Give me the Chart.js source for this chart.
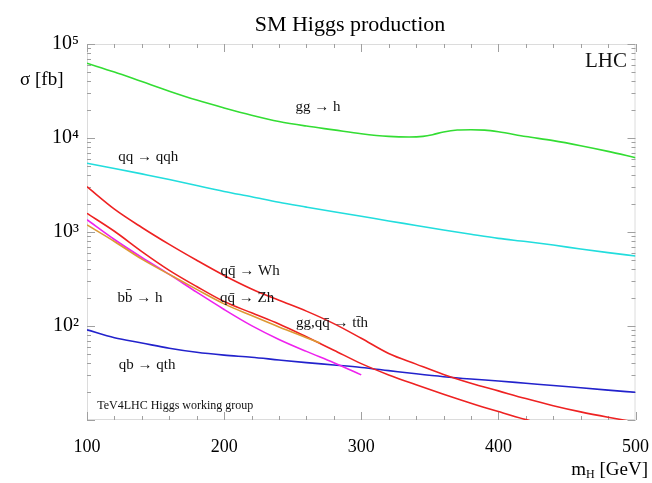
<!DOCTYPE html>
<html><head><meta charset="utf-8">
<script src="https://cdn.jsdelivr.net/npm/chart.js@4.4.1/dist/chart.umd.min.js"></script>
<style>html,body{margin:0;padding:0;background:#fff;} #c{display:block;}</style>
</head><body>
<canvas id="c" width="652" height="483"></canvas>
<script>
// ---- data (m_H in GeV, sigma in fb) ----
const massGrid = [100,120,140,160,180,200,220,240,260,280,300,320,340,360,380,400,420,440,460,480,500];

const ggMass  = [100,120,140,160,180,200,220,240,260,280,300,320,335,345,352,360,370,380,390,400,420,440,460,480,500];
const ggH     = [62400,50300,39800,31500,25300,20900,17500,15000,13400,12200,11100,10400,10230,10400,10840,11600,12160,12250,12130,11640,10380,9380,8280,7210,6170];

const vbfH    = [5380,4740,4150,3620,3120,2700,2370,2070,1840,1640,1470,1310,1175,1050,945,855,792,726,660,604,556];

const whH     = [3030,1750,1117,738,500,345,248,188,144,106,74,51,39.3,30.5,24.6,20.4,16.9,14.2,12.2,10.7,9.5];

const zhMass  = [100,120,140,160,180,200,220,240,260,280,300,320,340,360,380,400,420,440];
const zhH     = [1580,1018,619,391,263,182,138,105,76.7,55.3,39.8,30.2,23.7,18.8,15.1,12.3,10.1,8.5];

const tthMass = [100,120,140,160,180,200,220,240,260,270];
const tthH    = [1190,793,514,354,245,172,129,97.7,75.2,66];

const bbhMass = [100,120,140,160,180,200,220,240,260,280,300];
const bbhH    = [1350,832,536,354,229,150,101,72,53.7,40.7,30.2];

const qthH    = [91,75,66,58,52.5,49,46.5,43.5,40.8,38.5,36.2,33.5,31,28.9,27.3,26,24.6,23.3,22,20.8,19.7];

const xTicks = [100,200,300,400,500];
const yTicks = [1e2,1e3,1e4,1e5];
const yTickLabels = ['10²','10³','10⁴','10⁵'];

// curve labels (placed in data coordinates)
const labelTexts = ['gg → h','qq → qqh','qq̄ → Wh','qq̄ → Zh','gg,qq̄ → tt̄h','bb̄ → h','qb → qth'];
const labelMass  = [268.5,144.6,219,216.8,278.7,138.7,143.8];
const labelSigma = [21400,6280,385,199,108,199,38.5];

const pts = (xs, ys) => xs.map((x,i)=>({x:x, y:ys[i]}));
const SERIF = '"Liberation Serif", "DejaVu Serif", serif';

const deco = {
  id: 'deco',
  beforeDatasetsDraw(chart){
    const {ctx, chartArea:a, scales:{x, y}} = chart;
    ctx.save();
    ctx.strokeStyle = '#dcdcdc'; ctx.lineWidth = 1;
    ctx.strokeRect(a.left+0.5, a.top+0.5, a.right-a.left-1, a.bottom-a.top-1);
    ctx.strokeStyle = '#a0a0a0';
    ctx.beginPath();
    for (let m=100; m<=500; m+=20){
      const px = Math.round(x.getPixelForValue(m))+0.5;
      const L = (m%100===0)?8:4;
      ctx.moveTo(px,a.bottom); ctx.lineTo(px,a.bottom-L);
      ctx.moveTo(px,a.top); ctx.lineTo(px,a.top+L);
    }
    for (let e=1;e<=5;e++){
      for (let k=1;k<=9;k++){
        const v = k*Math.pow(10,e);
        if (v>1e5) break;
        const py = Math.round(y.getPixelForValue(v))+0.5;
        const L = (k===1)?8:4;
        ctx.moveTo(a.left,py); ctx.lineTo(a.left+L,py);
        ctx.moveTo(a.right,py); ctx.lineTo(a.right-L,py);
      }
    }
    ctx.stroke();
    ctx.restore();
  },
  afterDraw(chart){
    const {ctx, scales:{x, y}} = chart;
    ctx.save();
    ctx.fillStyle = '#111';
    ctx.textAlign = 'center'; ctx.textBaseline = 'middle';
    ctx.font = '15px ' + SERIF;
    labelTexts.forEach((t,i)=>{
      ctx.fillText(t, x.getPixelForValue(labelMass[i]), y.getPixelForValue(labelSigma[i]));
    });
    // working group note
    ctx.textAlign = 'left';
    ctx.font = '12px ' + SERIF;
    ctx.fillText('TeV4LHC Higgs working group', x.getPixelForValue(107.4), y.getPixelForValue(14.1));
    // LHC
    ctx.textAlign = 'right';
    ctx.font = '21px ' + SERIF;
    ctx.fillText('LHC', x.getPixelForValue(493.8), y.getPixelForValue(64400));
    // title
    ctx.textAlign = 'center';
    ctx.font = '22px ' + SERIF;
    ctx.fillStyle = '#000';
    ctx.fillText('SM Higgs production', 350, 25);
    // y axis title
    ctx.textAlign = 'left';
    ctx.font = '19px ' + SERIF;
    ctx.fillText('σ [fb]', 20, 80);
    // x axis title m_H [GeV]
    ctx.font = '19px ' + SERIF;
    const w1 = ctx.measureText('m').width;
    const w3 = ctx.measureText(' [GeV]').width;
    ctx.font = '12px ' + SERIF;
    const w2 = ctx.measureText('H').width;
    const x0 = chart.width - 4 - (w1+w2+w3);
    const yb = 470;
    ctx.font = '19px ' + SERIF;
    ctx.fillText('m', x0, yb);
    ctx.font = '12px ' + SERIF;
    ctx.fillText('H', x0+w1, yb+5);
    ctx.font = '19px ' + SERIF;
    ctx.fillText(' [GeV]', x0+w1+w2, yb);
    ctx.restore();
  }
};

const ds = (label, data, color) => ({label, data, borderColor: color, backgroundColor: color,
  borderWidth: 1.6, pointRadius: 0, fill: false, cubicInterpolationMode: 'monotone'});

new Chart(document.getElementById('c'), {
  type: 'line',
  data: {
    datasets: [
      ds('gg,qq̄ → tt̄h', pts(tthMass, tthH), '#dd9933'),
      ds('qq̄ → Zh', pts(zhMass, zhH), '#ee2222'),
      ds('bb̄ → h', pts(bbhMass, bbhH), '#ee22ee'),
      ds('qq̄ → Wh', pts(massGrid, whH), '#ee2222'),
      ds('qb → qth', pts(massGrid, qthH), '#2222cc'),
      ds('qq → qqh', pts(massGrid, vbfH), '#22dddd'),
      ds('gg → h', pts(ggMass, ggH), '#33dd33')
    ]
  },
  options: {
    responsive: false,
    animation: false,
    devicePixelRatio: 1,
    layout: { padding: { left: 0, right: 16.5, top: 44, bottom: 0 } },
    plugins: { legend: { display: false }, title: { display: false }, tooltip: { enabled: false } },
    scales: {
      x: {
        type: 'linear', min: 100, max: 500,
        afterBuildTicks: s => { s.ticks = xTicks.map(v => ({value: v})); },
        afterFit: s => { s.height = 63; s.paddingRight = 0; s.paddingLeft = 0; },
        grid: { display: false, drawTicks: false },
        border: { display: false },
        ticks: { color: '#000', padding: 16, maxRotation: 0, autoSkip: false,
                 font: { family: SERIF, size: 18 } }
      },
      y: {
        type: 'logarithmic', min: 10, max: 1e5,
        afterBuildTicks: s => { s.ticks = [10].concat(yTicks).map(v => ({value: v})); },
        afterFit: s => { s.width = 87; s.paddingTop = 0; s.paddingBottom = 0; },
        grid: { display: false, drawTicks: false },
        border: { display: false },
        ticks: { color: '#000', padding: 8, autoSkip: false,
                 font: { family: SERIF, size: 20 },
                 callback: v => { const i = yTicks.indexOf(v); return i >= 0 ? yTickLabels[i] : ''; } }
      }
    }
  },
  plugins: [deco]
});
</script>
</body></html>
